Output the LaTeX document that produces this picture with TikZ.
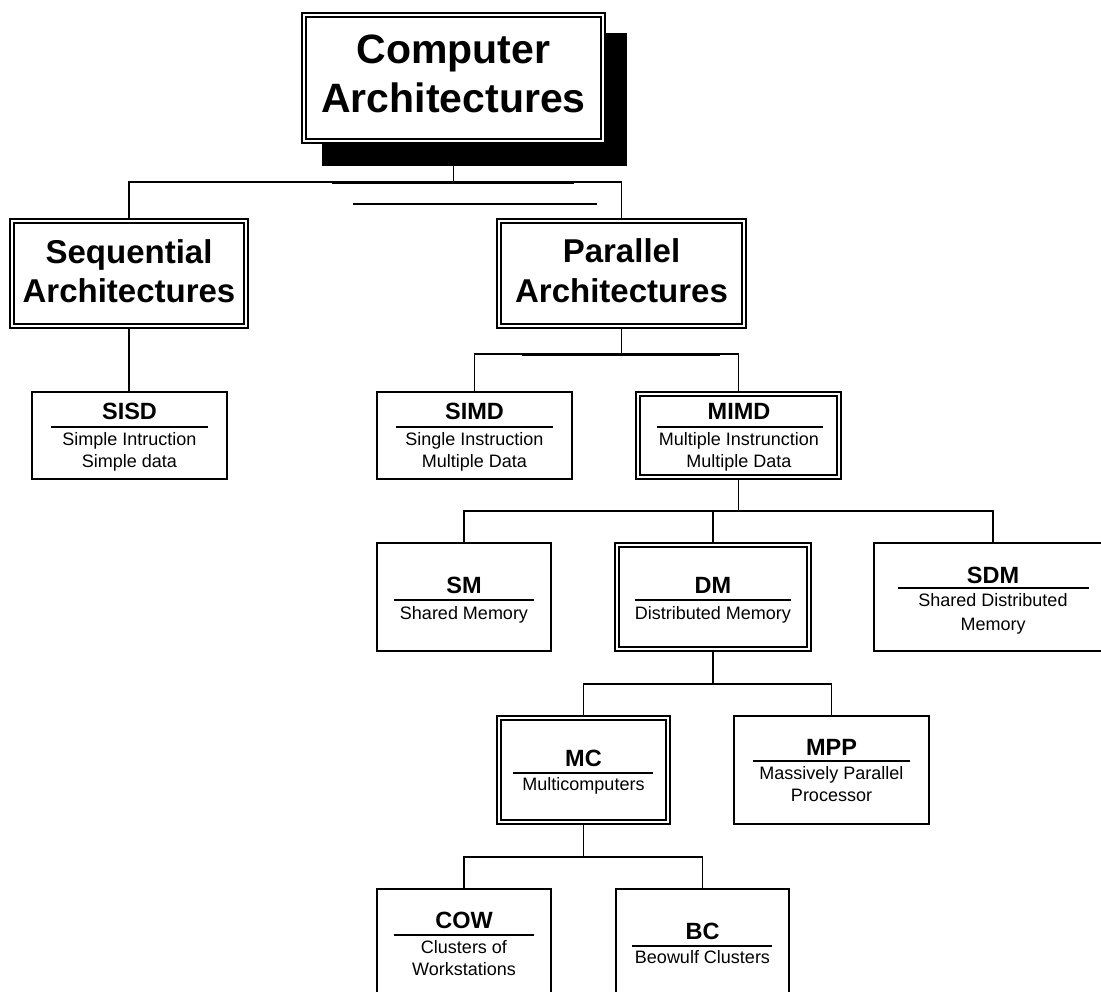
\documentclass[tikz,border=0pt]{standalone}
\usepackage{fontspec}
\setmainfont{Liberation Sans}
\begin{document}
\begin{tikzpicture}[x=1pt,y=-1pt,
  conn/.style={line width=1.8pt},
  box/.style={draw, line width=1.7pt, fill=white, rectangle, inner sep=0pt},
  dbox/.style={draw, line width=1.3pt, fill=white, rectangle, inner sep=0pt},
  innerline/.style={line width=2pt},
  rulebar/.style={line width=1.5pt},
  big/.style={font=\fontsize{41}{48}\selectfont\bfseries, anchor=base, inner sep=0pt},
  mid/.style={font=\fontsize{33}{39}\selectfont\bfseries, anchor=base, inner sep=0pt},
  ttl/.style={font=\fontsize{23.5}{28}\selectfont\bfseries, anchor=base, inner sep=0pt},
  sub/.style={font=\fontsize{18}{21}\selectfont, anchor=base, inner sep=0pt}]

\useasboundingbox (0,0) rectangle (1101,992);
\fill[white] (0,0) rectangle (1101,992);
\clip (0,0) rectangle (1101,992);

% ---- root with drop shadow ----
\node[fill=black, inner sep=0pt, minimum width=305pt, minimum height=133pt] (compshadow) at (474.5,99.5) {};
\node[dbox, minimum width=303pt, minimum height=130pt] (comp) at (453.5,78) {};

% ---- second level ----
\node[dbox, minimum width=238pt, minimum height=109pt] (seq) at (129,273.5) {};
\node[dbox, minimum width=249pt, minimum height=109pt] (par) at (621.5,273.5) {};

% ---- flynn classes ----
\node[box, minimum width=195pt, minimum height=87pt] (sisd) at (129.5,435.5) {};
\node[box, minimum width=195pt, minimum height=87pt] (simd) at (474.5,435.5) {};
\node[dbox, minimum width=205pt, minimum height=87pt] (mimd) at (738.5,435.5) {};

% ---- memory models ----
\node[box, minimum width=174pt, minimum height=108pt] (sm) at (464,597) {};
\node[dbox, minimum width=196pt, minimum height=108pt] (dm) at (713,597) {};
\node[box, minimum width=238pt, minimum height=108pt] (sdm) at (993,597) {};

% ---- distributed memory ----
\node[dbox, minimum width=173pt, minimum height=108pt] (mc) at (583.5,770) {};
\node[box, minimum width=195pt, minimum height=108pt] (mpp) at (831.5,770) {};

% ---- multicomputers ----
\node[box, minimum width=174pt, minimum height=108pt] (cow) at (464,943) {};
\node[box, minimum width=173pt, minimum height=108pt] (bc) at (702.5,943) {};

% inner frames of the double-ruled boxes
\foreach \n in {comp,seq,par,mimd,dm,mc}
  \draw[innerline] ([shift={(4.5,4.5)}]\n.north west) rectangle ([shift={(-4.5,-4.5)}]\n.south east);

% ---- labels ----
\node[big] (compA) at (453.5,64) {Computer};
\node[big] (compB) at (453.5,113) {Architectures};
\node[mid] (seqA) at (129,264) {Sequential};
\node[mid] (seqB) at (129,303) {Architectures};
\node[mid] (parA) at (621.5,263) {Parallel};
\node[mid] (parB) at (621.5,303) {Architectures};

\node[ttl] (sisdT) at (129.5,419) {SISD};
\draw[rulebar] (51,427) -- (208,427);
\node[sub] (sisdA) at (129.5,445) {Simple Intruction};
\node[sub] (sisdB) at (129.5,467) {Simple data};

\node[ttl] (simdT) at (474.5,419) {SIMD};
\draw[rulebar] (396,427) -- (553,427);
\node[sub] (simdA) at (474.5,445) {Single Instruction};
\node[sub] (simdB) at (474.5,467) {Multiple Data};

\node[ttl] (mimdT) at (739,419) {MIMD};
\draw[rulebar] (657,427) -- (823,427);
\node[sub] (mimdA) at (739,445) {Multiple Instrunction};
\node[sub] (mimdB) at (739,467) {Multiple Data};

\node[ttl] (smT) at (464,593) {SM};
\draw[rulebar] (394,600) -- (534,600);
\node[sub] (smA) at (464,619) {Shared Memory};

\node[ttl] (dmT) at (713,593) {DM};
\draw[rulebar] (635,600) -- (791,600);
\node[sub] (dmA) at (713,619) {Distributed Memory};

\node[ttl] (sdmT) at (993,583) {SDM};
\draw[rulebar] (898,588) -- (1089,588);
\node[sub] (sdmA) at (993,606) {Shared Distributed};
\node[sub] (sdmB) at (993,630) {Memory};

\node[ttl] (mcT) at (583.5,766) {MC};
\draw[rulebar] (513,773) -- (653,773);
\node[sub] (mcA) at (583.5,790) {Multicomputers};

\node[ttl] (mppT) at (831.5,755) {MPP};
\draw[rulebar] (753,761) -- (910,761);
\node[sub] (mppA) at (831.5,779) {Massively Parallel};
\node[sub] (mppB) at (831.5,801) {Processor};

\node[ttl] (cowT) at (464,928) {COW};
\draw[rulebar] (394,935) -- (534,935);
\node[sub] (cowA) at (464,953) {Clusters of};
\node[sub] (cowB) at (464,975) {Workstations};

\node[ttl] (bcT) at (702.5,939) {BC};
\draw[rulebar] (632,946) -- (772,946);
\node[sub] (bcA) at (702.5,963) {Beowulf Clusters};

% ---- connectors ----
\coordinate (busA) at (0,182);
\coordinate (busB) at (0,354);
\coordinate (busC) at (0,511);
\coordinate (busD) at (0,684);
\coordinate (busE) at (0,857);

\draw[conn] (comp.south |- compshadow.south) -- (comp.south |- busA);
\draw[conn] (seq.north) -- (seq.north |- busA) -- (par.north |- busA) -- (par.north);
\draw[conn] (332,182.8) -- (574,182.8);
\draw[conn] (353,204) -- (597,204);

\draw[conn] (seq.south) -- (seq.south |- sisd.north);

\draw[conn] (par.south) -- (par.south |- busB);
\draw[conn] (simd.north) -- (simd.north |- busB) -- (mimd.north |- busB) -- (mimd.north);
\draw[conn] (522,354.8) -- (720,354.8);

\draw[conn] (mimd.south) -- (mimd.south |- busC);
\draw[conn] (sm.north) -- (sm.north |- busC) -- (sdm.north |- busC) -- (sdm.north);
\draw[conn] (dm.north) -- (dm.north |- busC);

\draw[conn] (dm.south) -- (dm.south |- busD);
\draw[conn] (mc.north) -- (mc.north |- busD) -- (mpp.north |- busD) -- (mpp.north);

\draw[conn] (mc.south) -- (mc.south |- busE);
\draw[conn] (cow.north) -- (cow.north |- busE) -- (bc.north |- busE) -- (bc.north);
\end{tikzpicture}
\end{document}
